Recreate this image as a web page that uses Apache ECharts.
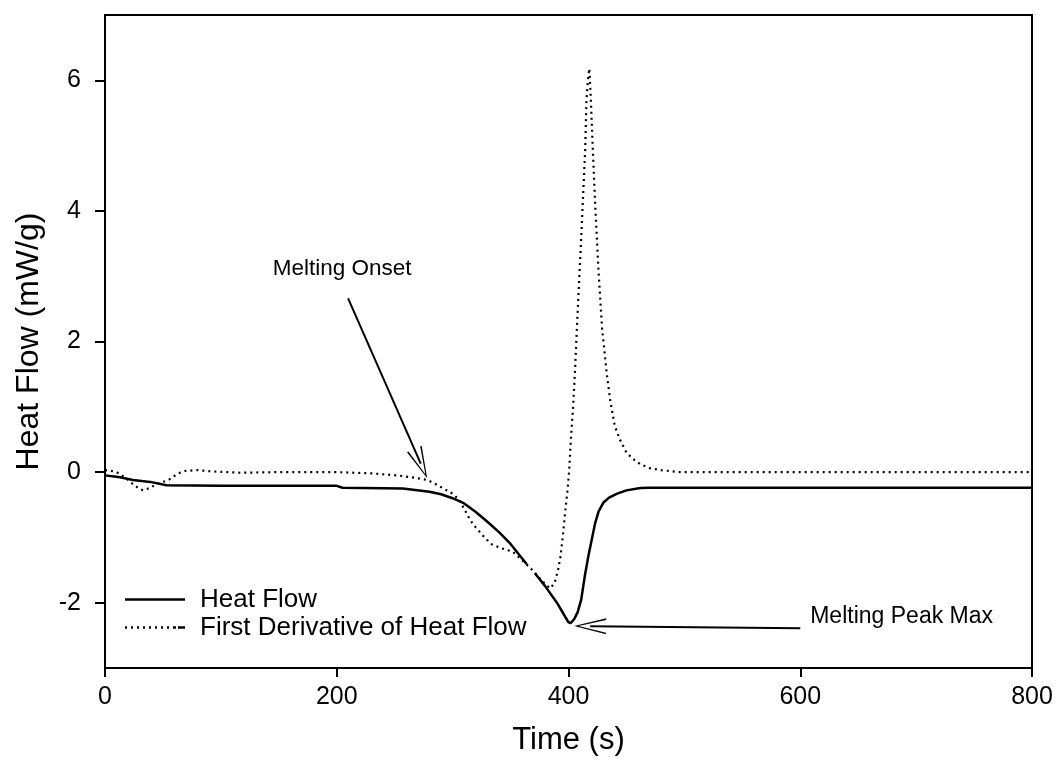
<!DOCTYPE html>
<html>
<head>
<meta charset="utf-8">
<script src="https://cdn.jsdelivr.net/npm/echarts@6/dist/echarts.min.js"></script>
<style>
html,body{margin:0;padding:0;background:#fff;}
#chart{width:1062px;height:773px;}
</style>
</head>
<body>
<div id="chart"></div>
<script>
// ---- data ----
var timeHF = [0, 13, 24, 39, 53, 100, 150, 200, 205, 257, 280, 290, 300, 310, 320, 330, 340, 350, 364, 367, 371, 380, 390, 395, 400, 402, 405, 408, 411, 414, 417, 420, 423, 426, 430, 435, 442, 450, 462, 470, 500, 600, 700, 800];
var heatFlow = [-0.05, -0.08, -0.12, -0.15, -0.20, -0.21, -0.21, -0.21, -0.24, -0.25, -0.30, -0.34, -0.40, -0.48, -0.61, -0.76, -0.92, -1.10, -1.41, null, -1.55, -1.75, -2.00, -2.15, -2.30, -2.31, -2.25, -2.14, -1.95, -1.60, -1.30, -1.04, -0.78, -0.60, -0.47, -0.39, -0.33, -0.28, -0.245, -0.24, -0.24, -0.24, -0.24, -0.24];

var timeDeriv = [0, 5, 10, 17, 23, 30, 33, 39, 43, 50, 55, 63, 70, 80, 93, 117, 150, 200, 230, 252, 265, 278, 285, 292, 300, 306, 315, 320, 326, 333, 341, 352, 360, 370, 378, 384, 388, 391, 393, 395, 397, 399, 400.5, 402, 404, 405.5, 407.5, 409.5, 411, 412.5, 414.4, 415.5, 417, 418, 419.3, 421, 423, 425, 426, 429, 433, 436, 440, 444.6, 450, 455, 462, 470, 480, 496, 600, 700, 800];
var deriv = [0.03, 0.02, 0.0, -0.08, -0.17, -0.26, -0.28, -0.24, -0.20, -0.15, -0.12, -0.02, 0.02, 0.03, 0.01, -0.01, 0.0, 0.0, -0.02, -0.05, -0.08, -0.12, -0.18, -0.25, -0.33, -0.43, -0.73, -0.85, -0.97, -1.10, -1.16, -1.22, -1.35, -1.52, -1.68, -1.78, -1.70, -1.50, -1.30, -1.00, -0.63, -0.30, 0.0, 0.49, 1.0, 1.51, 2.3, 3.05, 3.6, 4.2, 4.93, 5.69, 6.05, 6.18, 5.69, 4.93, 4.1, 3.4, 3.05, 2.2, 1.51, 1.1, 0.7, 0.49, 0.30, 0.21, 0.12, 0.06, 0.03, 0.0, 0.0, 0.0, 0.0];

var yTicks = [-2, 0, 2, 4, 6];
var xTicks = [0, 200, 400, 600, 800];
var seriesNames = ['Heat Flow', 'First Derivative of Heat Flow'];

// annotations (data units)
var onsetText = 'Melting Onset';
var onsetTextAt = [204.6, 3.12];
var onsetArrow = [[209.8, 2.66], [272.5, 0.13]];
var peakText = 'Melting Peak Max';
var peakTextAt = [608.6, -2.22];
var peakArrow = [[600, -2.39], [418.7, -2.36]];

function zip(xs, ys) {
  return xs.map(function (x, i) { return [x, ys[i] === null ? '-' : ys[i]]; });
}

var FONT = '"Liberation Sans", Arial, sans-serif';
var arrowPath = 'path://M8,0 L16,32 L14.4,32 L8,4.5 L1.6,32 L0,32 Z';
var solidIcon = 'path://M0,0h60v2.5h-60z';
var dottedIcon = 'path://M0,0h2v2.5h-2z M6,0h2v2.5h-2z M12,0h2v2.5h-2z M18,0h2v2.5h-2z M24,0h2v2.5h-2z M30,0h2v2.5h-2z M36,0h2v2.5h-2z M42,0h2v2.5h-2z M48,0h3v2.5h-3z M53,0h7v2.5h-7z';

var chart = echarts.init(document.getElementById('chart'), null, {renderer: 'canvas'});
chart.setOption({
  animation: false,
  backgroundColor: '#fff',
  grid: {left: 105, right: 30, top: 15, bottom: 105, show: true, borderColor: '#000', borderWidth: 2},
  legend: {
    left: 120, top: 581, orient: 'vertical',
    itemWidth: 60, itemHeight: 2.5, itemGap: 1,
    data: [{name: seriesNames[0], icon: solidIcon}, {name: seriesNames[1], icon: dottedIcon}],
    itemStyle: {color: '#000', borderWidth: 0},
    lineStyle: {width: 0},
    textStyle: {fontFamily: FONT, fontSize: 26, lineHeight: 27, color: '#000', padding: [0, 0, 0, 10]}
  },
  xAxis: {
    type: 'value', min: 0, max: 800, interval: 200,
    name: 'Time (s)', nameLocation: 'middle', nameGap: 57,
    nameTextStyle: {fontFamily: FONT, fontSize: 31, color: '#000'},
    axisLine: {onZero: false, lineStyle: {color: '#000', width: 2}},
    axisTick: {show: true, inside: false, length: 9, lineStyle: {color: '#000', width: 2}, customValues: xTicks},
    axisLabel: {fontFamily: FONT, fontSize: 25, color: '#000', margin: 17, customValues: xTicks},
    splitLine: {show: false}
  },
  yAxis: {
    type: 'value', min: -3, max: 7,
    name: 'Heat Flow (mW/g)', nameLocation: 'middle', nameGap: 60,
    nameTextStyle: {fontFamily: FONT, fontSize: 32, color: '#000'},
    axisLine: {onZero: false, lineStyle: {color: '#000', width: 2}},
    axisTick: {show: true, inside: false, length: 10, lineStyle: {color: '#000', width: 2}, customValues: yTicks},
    axisLabel: {fontFamily: FONT, fontSize: 25, color: '#000', margin: 24, customValues: yTicks},
    splitLine: {show: false}
  },
  series: [
    {
      name: seriesNames[0], type: 'line', showSymbol: false, symbol: 'none',
      data: zip(timeHF, heatFlow), connectNulls: false,
      lineStyle: {color: '#000', width: 2.5, type: 'solid'},
      itemStyle: {color: '#000'},
      z: 3,
      markLine: {
        silent: true, symbol: ['none', arrowPath], symbolSize: [16, 32],
        lineStyle: {color: '#000', width: 2, type: 'solid'},
        itemStyle: {color: '#000'},
        label: {show: false},
        data: [
          [{coord: onsetArrow[0]}, {coord: onsetArrow[1]}],
          [{coord: peakArrow[0]}, {coord: peakArrow[1]}]
        ]
      },
      markPoint: {
        silent: true, symbol: 'rect', symbolSize: 1,
        itemStyle: {color: 'transparent'},
        data: [
          {coord: onsetTextAt, label: {show: true, formatter: onsetText, position: 'inside', align: 'center', verticalAlign: 'middle', fontFamily: FONT, fontSize: 22.5, color: '#000'}},
          {coord: peakTextAt, label: {show: true, formatter: peakText, position: 'inside', align: 'left', verticalAlign: 'middle', fontFamily: FONT, fontSize: 23, color: '#000'}}
        ]
      }
    },
    {
      name: seriesNames[1], type: 'line', showSymbol: false, symbol: 'none',
      data: zip(timeDeriv, deriv),
      lineStyle: {color: '#000', width: 2.2, type: [2, 4]},
      itemStyle: {color: '#000'},
      z: 2
    }
  ]
});
</script>
</body>
</html>
